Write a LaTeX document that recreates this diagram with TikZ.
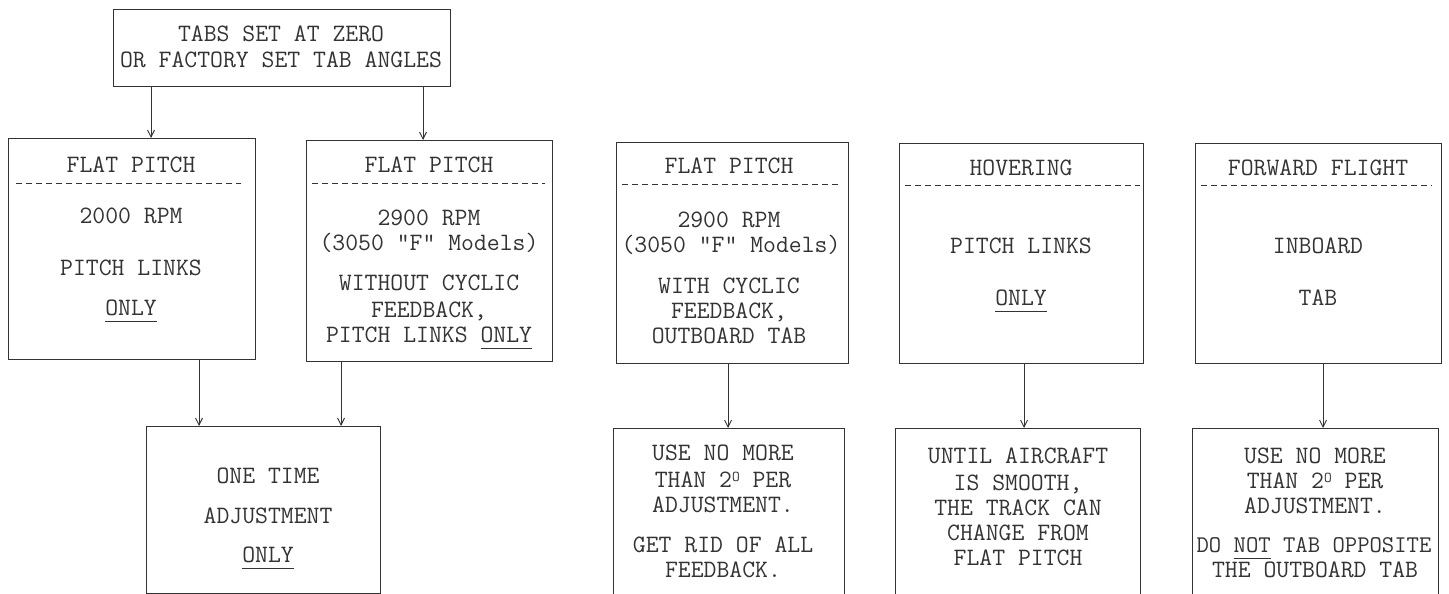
\documentclass[tikz,border=0pt]{standalone}
\usepackage{fontspec}
\usetikzlibrary{arrows.meta}
\newcommand\myul[1]{\setbox0\hbox{#1}\rlap{\rule[-7pt]{\wd0}{0.9pt}}\box0\relax}
\newcommand\degO{\raisebox{6pt}{\fontsize{15}{15}\selectfont O}}
\begin{document}
\begin{tikzpicture}[x=1pt,y=-1pt,
  box/.style={draw=black!80, line width=1pt, inner sep=0, outer sep=0},
  txt/.style={anchor=base, inner sep=0, text=black!80, font=\ttfamily\fontsize{25}{27}\selectfont},
  sep/.style={draw=black!80, line width=0.9pt, dash pattern=on 6pt off 4pt},
  arr/.style={draw=black!80, line width=0.9pt, -{Straight Barb[length=7pt,width=7pt]}}]
\useasboundingbox (0,0) rectangle (1449,594);
% boxes
\node[box, minimum width=337, minimum height=77] (T) at (281.5,48.5) {};
\node[box, minimum width=247, minimum height=221] (A) at (131.5,248.5) {};
\node[box, minimum width=246, minimum height=221] (B) at (429,250.5) {};
\node[box, minimum width=232, minimum height=221] (C) at (732,252.5) {};
\node[box, minimum width=244, minimum height=220] (D) at (1021,253) {};
\node[box, minimum width=246, minimum height=220] (E) at (1318,253) {};
\node[box, minimum width=234, minimum height=167] (F) at (263,509.5) {};
\node[box, minimum width=231, minimum height=172] (G) at (728.5,514) {};
\node[box, minimum width=245, minimum height=172] (H) at (1017.5,514) {};
\node[box, minimum width=246, minimum height=172] (I) at (1315,514) {};
% separators
\draw[sep] (16,183) -- (241,183);
\draw[sep] (312,183) -- (545,183);
\draw[sep] (622,184) -- (838,184);
\draw[sep] (905,185) -- (1140,185);
\draw[sep] (1201,185) -- (1432,185);
% texts
\node[txt] (t1) at (281,42) {TABS SET AT ZERO};
\node[txt] (t2) at (281,68) {OR FACTORY SET TAB ANGLES};
\node[txt] (a1) at (131,172) {FLAT PITCH};
\node[txt] (a2) at (131,223) {2000 RPM};
\node[txt] (a3) at (131,275) {PITCH LINKS};
\node[txt] (a4) at (131,315) {\myul{ONLY}};
\node[txt] (b1) at (429,172) {FLAT PITCH};
\node[txt] (b2) at (429,225) {2900 RPM};
\node[txt] (b3) at (429,250) {(3050 "F" Models)};
\node[txt] (b4) at (429,290) {WITHOUT CYCLIC};
\node[txt] (b5) at (429,317) {FEEDBACK,};
\node[txt] (b6) at (429,342) {PITCH LINKS \myul{ONLY}};
\node[txt] (c1) at (729,173) {FLAT PITCH};
\node[txt] (c2) at (729,227) {2900 RPM};
\node[txt] (c3) at (731,252) {(3050 "F" Models)};
\node[txt] (c4) at (729,293) {WITH CYCLIC};
\node[txt] (c5) at (729,318) {FEEDBACK,};
\node[txt] (c6) at (729,343) {OUTBOARD TAB};
\node[txt] (d1) at (1021,175) {HOVERING};
\node[txt] (d2) at (1021,253) {PITCH LINKS};
\node[txt] (d3) at (1021,305) {\myul{ONLY}};
\node[txt] (e1) at (1318,175) {FORWARD FLIGHT};
\node[txt] (e2) at (1318,253) {INBOARD};
\node[txt] (e3) at (1318,305) {TAB};
\node[txt] (f1) at (268,483) {ONE TIME};
\node[txt] (f2) at (268,523) {ADJUSTMENT};
\node[txt] (f3) at (268,562) {\myul{ONLY}};
\node[txt] (g1) at (723,460) {USE NO MORE};
\node[txt] (g2) at (723,487) {THAN 2\degO{} PER};
\node[txt] (g3) at (723,512) {ADJUSTMENT.};
\node[txt] (g4) at (723,552) {GET RID OF ALL};
\node[txt] (g5) at (723,577) {FEEDBACK.};
\node[txt] (h1) at (1018,463) {UNTIL AIRCRAFT};
\node[txt] (h2) at (1018,490) {IS SMOOTH,};
\node[txt] (h3) at (1018,515) {THE TRACK CAN};
\node[txt] (h4) at (1018,540) {CHANGE FROM};
\node[txt] (h5) at (1018,565) {FLAT PITCH};
\node[txt] (i1) at (1315,463) {USE NO MORE};
\node[txt] (i2) at (1315,488) {THAN 2\degO{} PER};
\node[txt] (i3) at (1315,513) {ADJUSTMENT.};
\node[txt, font=\ttfamily\fontsize{24}{27}\selectfont] (i4) at (1314,552) {DO \myul{NOT} TAB OPPOSITE};
\node[txt] (i5) at (1315,577) {THE OUTBOARD TAB};
% connector x positions
\coordinate (xTA) at (151,0);
\coordinate (xTB) at (423,0);
\coordinate (xAF) at (199,0);
\coordinate (xBF) at (341,0);
\coordinate (xCG) at (728,0);
\coordinate (xDH) at (1024,0);
\coordinate (xEI) at (1323,0);
% connectors
\draw[arr] (T.south -| xTA) -- (A.north -| xTA);
\draw[arr] (T.south -| xTB) -- (B.north -| xTB);
\draw[arr] (A.south -| xAF) -- (F.north -| xAF);
\draw[arr] (B.south -| xBF) -- (F.north -| xBF);
\draw[arr] (C.south -| xCG) -- (G.north -| xCG);
\draw[arr] (D.south -| xDH) -- (H.north -| xDH);
\draw[arr] (E.south -| xEI) -- (I.north -| xEI);
\end{tikzpicture}
\end{document}
